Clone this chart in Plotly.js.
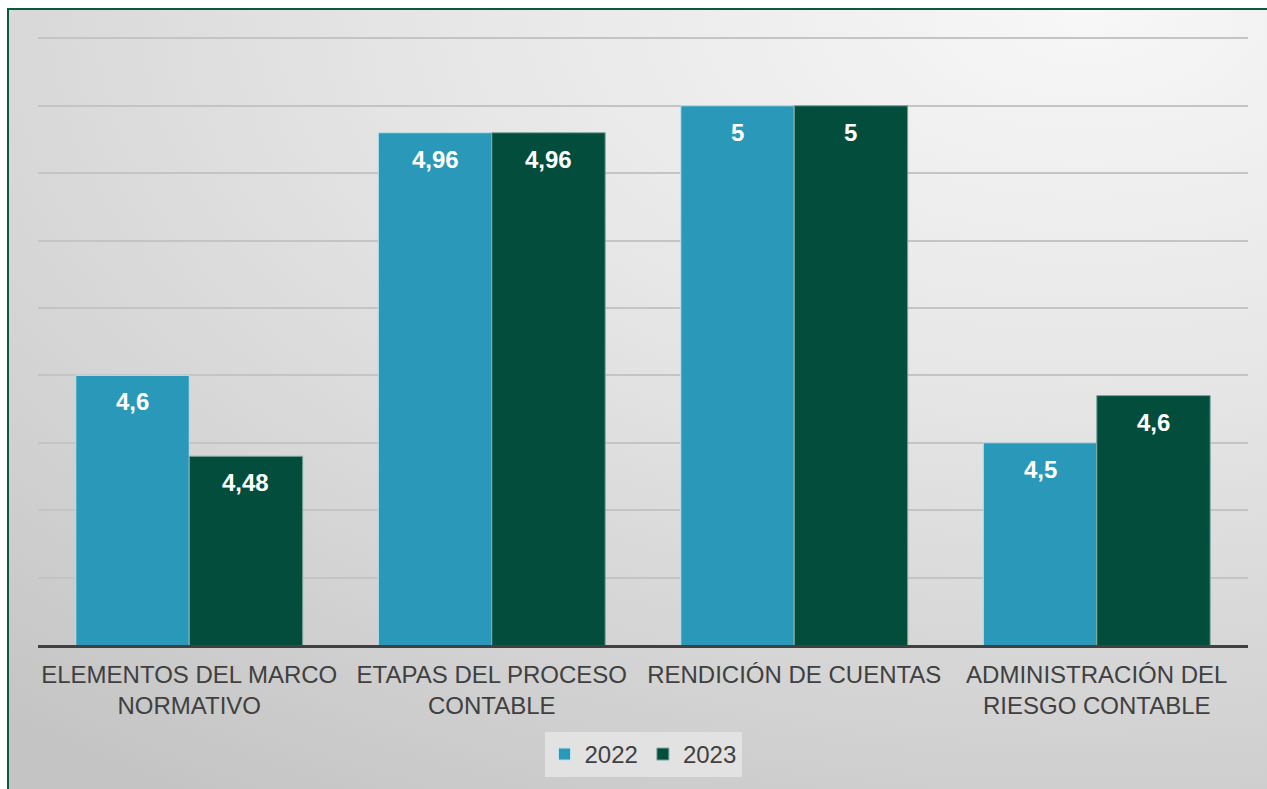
<!DOCTYPE html>
<html>
<head>
<meta charset="utf-8">
<script src="https://cdn.plot.ly/plotly-3.0.1.min.js"></script>
<style>
  html, body { margin: 0; padding: 0; width: 1267px; height: 789px; overflow: hidden; background: #ffffff; }
  #bg {
    position: absolute; left: 7px; top: 8px; width: 1270px; height: 790px;
    border: 2px solid #0b5a40; box-sizing: border-box;
    background: radial-gradient(ellipse 130% 120% at 85% 0%, #f7f7f7 0%, #e6e6e6 40%, #d3d3d3 75%, #c4c4c4 100%);
  }
  #chart { position: absolute; left: 0; top: 0; width: 1267px; height: 789px; }
</style>
</head>
<body>
<div id="bg"></div>
<div id="chart"></div>
<script>
const categories = [
  "ELEMENTOS DEL MARCO<br>NORMATIVO",
  "ETAPAS DEL PROCESO<br>CONTABLE",
  "RENDICIÓN DE CUENTAS",
  "ADMINISTRACIÓN DEL<br>RIESGO CONTABLE"
];
const seriesNames = ["2022", "2023"];
const values2022 = [4.6, 4.96, 5.0, 4.5];
const values2023 = [4.48, 4.96, 5.0, 4.57];
const labels2022 = ["4,6", "4,96", "5", "4,5"];
const labels2023 = ["4,48", "4,96", "5", "4,6"];
const colors = ["#2a98b9", "#034d3c"];

const traces = [
  { type: "bar", name: seriesNames[0], x: categories, y: values2022,
    marker: { color: colors[0], line: { color: "#bfe0ea", width: 1 } }, hoverinfo: "skip" },
  { type: "bar", name: seriesNames[1], x: categories, y: values2023,
    marker: { color: colors[1], line: { color: "#7fa79c", width: 1 } }, hoverinfo: "skip" }
];

const offset = 0.1875;
const annotations = [];
[[values2022, labels2022, -offset], [values2023, labels2023, offset]].forEach(([vals, labs, dx]) => {
  vals.forEach((v, i) => {
    annotations.push({
      x: i + dx, y: v, xref: "x", yref: "y", text: "<b>" + labs[i] + "</b>",
      showarrow: false, yanchor: "top", yshift: -11,
      font: { family: "Arial, 'Liberation Sans', sans-serif", size: 24, color: "#ffffff" }
    });
  });
});

const layout = {
  width: 1267, height: 789,
  margin: { l: 38, r: 19, t: 37, b: 144, pad: 0 },
  paper_bgcolor: "rgba(0,0,0,0)",
  plot_bgcolor: "rgba(0,0,0,0)",
  barmode: "group",
  bargap: 0.25,
  bargroupgap: 0,
  font: { family: "Arial, 'Liberation Sans', sans-serif", color: "#404040", size: 24 },
  xaxis: {
    type: "category",
    showline: true, linecolor: "#404040", linewidth: 3,
    ticks: "", showgrid: false,
    tickfont: { size: 24, color: "#404040" },
    ticklabelstandoff: 6,
    fixedrange: true
  },
  yaxis: {
    range: [4.2, 5.102], dtick: 0.1, tick0: 4.2,
    showticklabels: false, ticks: "",
    showgrid: true, gridcolor: "#c4c4c4", gridwidth: 2,
    zeroline: false, showline: false, fixedrange: true
  },
  showlegend: true,
  legend: {
    orientation: "h", x: 0.5, xanchor: "center", y: -0.143, yanchor: "top",
    bgcolor: "#e2e2e2", font: { size: 24, color: "#404040" },
    itemwidth: 30, tracegroupgap: 0
  },
  annotations: annotations
};

Plotly.newPlot("chart", traces, layout, { displayModeBar: false, staticPlot: true });
</script>
</body>
</html>
